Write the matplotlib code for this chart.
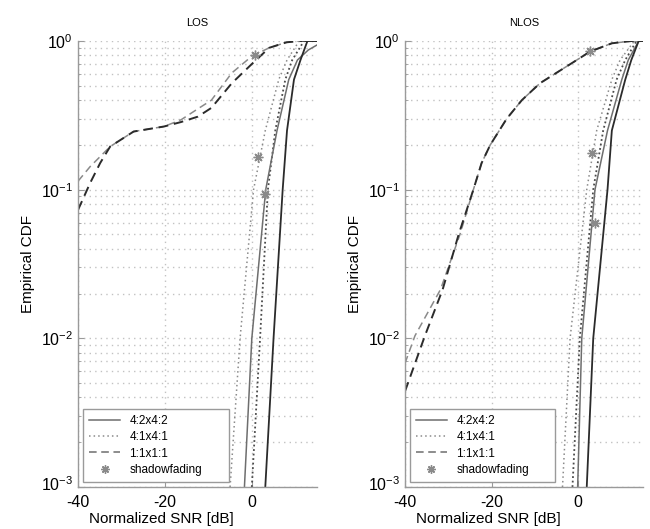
import numpy as np
import matplotlib
matplotlib.use('Agg')
import matplotlib.pyplot as plt
import matplotlib.transforms as mtransforms
from matplotlib.ticker import MultipleLocator, FixedLocator, LogLocator, NullFormatter
from matplotlib.lines import Line2D

plt.rcParams['font.family'] = ['Liberation Sans', 'DejaVu Sans']
plt.rcParams['mathtext.fontset'] = 'custom'
plt.rcParams['mathtext.rm'] = 'Liberation Sans'
plt.rcParams['mathtext.it'] = 'Liberation Sans:italic'
plt.rcParams['mathtext.bf'] = 'Liberation Sans:bold'
plt.rcParams['axes.unicode_minus'] = False

# ---- data (x in dB, y = CDF) ----
# LOS
los_solid_dark_x = [3.1, 5.0, 7.1, 8.1, 9.7, 11.2, 12.8, 15.0]
los_solid_dark_y = [1e-3, 1e-2, 0.1, 0.25, 0.55, 0.745, 1.0, 1.0]
los_solid_gray_x = [-1.7, 0.0, 3.2, 5.8, 8.5, 10.5, 13.0, 15.0]
los_solid_gray_y = [1e-3, 1e-2, 0.1, 0.25, 0.55, 0.745, 0.87, 0.94]
los_dot_dark_x = [0.0, 1.9, 3.7, 5.4, 7.7, 9.3, 12.0, 15.0]
los_dot_dark_y = [1e-3, 1e-2, 0.1, 0.25, 0.55, 0.745, 1.0, 1.0]
los_dot_gray_x = [-5.0, -2.7, 0.4, 3.1, 6.2, 8.1, 10.9, 15.0]
los_dot_gray_y = [1e-3, 1e-2, 0.1, 0.25, 0.55, 0.745, 1.0, 1.0]
los_dash_gray_x = [-40, -37.2, -32.6, -27.2, -20.2, -16.3, -12.4, -9.3, -4.6, 0.0, 4.0, 8.0, 11.0, 15.0]
los_dash_gray_y = [0.114, 0.143, 0.195, 0.246, 0.266, 0.295, 0.35, 0.40, 0.61, 0.79, 0.90, 0.98, 1.0, 1.0]
los_dash_dark_x = [-40, -37.2, -34.9, -32.6, -27.2, -20.2, -16.3, -12.4, -9.3, -4.6, 0.0, 4.0, 8.0, 11.0, 15.0]
los_dash_dark_y = [0.073, 0.111, 0.151, 0.195, 0.246, 0.266, 0.285, 0.31, 0.355, 0.52, 0.70, 0.90, 0.98, 1.0, 1.0]
los_star_x = [0.8, 1.5, 3.1]
los_star_y = [0.80, 0.165, 0.093]

# NLOS
nlos_solid_dark_x = [2.0, 3.5, 6.8, 7.8, 10.9, 12.3, 14.0, 15.0]
nlos_solid_dark_y = [1e-3, 1e-2, 0.1, 0.25, 0.55, 0.745, 1.0, 1.0]
nlos_solid_gray_x = [-0.1, 0.85, 3.9, 6.8, 10.1, 11.6, 14.0, 15.0]
nlos_solid_gray_y = [1e-3, 1e-2, 0.1, 0.25, 0.55, 0.745, 1.0, 1.0]
nlos_dot_dark_x = [-1.3, 0.4, 3.5, 5.8, 8.9, 10.9, 13.5, 15.0]
nlos_dot_dark_y = [1e-3, 1e-2, 0.1, 0.25, 0.55, 0.745, 1.0, 1.0]
nlos_dot_gray_x = [-3.6, -1.85, 2.0, 4.3, 7.8, 9.7, 13.0, 15.0]
nlos_dot_gray_y = [1e-3, 1e-2, 0.1, 0.25, 0.55, 0.745, 1.0, 1.0]
nlos_dash_gray_x = [-40, -37.7, -31.8, -27.3, -24.2, -22.3, -20.3, -16.5, -13.0, -8.8, -0.3, 2.8, 7.8, 12.4, 15.0]
nlos_dash_gray_y = [0.0068, 0.0104, 0.0213, 0.05, 0.1, 0.151, 0.2, 0.30, 0.40, 0.52, 0.745, 0.85, 0.965, 1.0, 1.0]
nlos_dash_dark_x = [-40, -35.4, -31.3, -27.6, -24.2, -22.3, -20.3, -16.5, -13.0, -8.8, -0.3, 2.8, 7.8, 12.4, 15.0]
nlos_dash_dark_y = [0.0044, 0.0104, 0.0213, 0.05, 0.1, 0.151, 0.2, 0.30, 0.40, 0.52, 0.745, 0.85, 0.965, 1.0, 1.0]
nlos_star_x = [2.8, 3.2, 3.9]
nlos_star_y = [0.85, 0.176, 0.06]

legend_labels = ['4:2x4:2', '4:1x4:1', '1:1x1:1', 'shadowfading']
titles = ['LOS', 'NLOS']
ydecades = [1e-3, 1e-2, 1e-1, 1e0]

dark = '#2b2b2b'
gray = '#8a8a8a'
axcol = '#9a9a9a'
gridcol = '#c2c2c2'
asterisk = (8, 2, 0)   # matlab-ish '*'


def draw_panel(ax, d, title):
    ax.semilogy(d['dash_gray'][0], d['dash_gray'][1], color=gray, ls=(0, (5, 3)), lw=1.1)
    ax.semilogy(d['dash_dark'][0], d['dash_dark'][1], color=dark, ls=(0, (5, 3)), lw=1.4)
    ax.semilogy(d['dot_gray'][0], d['dot_gray'][1], color=gray, ls=(0, (1, 2)), lw=1.1)
    ax.semilogy(d['dot_dark'][0], d['dot_dark'][1], color='#4a4a4a', ls=(0, (1, 1.5)), lw=1.3)
    ax.semilogy(d['solid_gray'][0], d['solid_gray'][1], color='#6e6e6e', lw=1.1)
    ax.semilogy(d['solid_dark'][0], d['solid_dark'][1], color=dark, lw=1.3)
    ax.semilogy(d['star'][0], d['star'][1], ls='none', marker=asterisk, color=gray, ms=7, mew=1.0)

    ax.set_xlim(-40, 15)
    ax.set_ylim(1e-3, 1)
    ax.xaxis.set_major_locator(MultipleLocator(20))
    ax.yaxis.set_major_locator(FixedLocator(ydecades))
    ax.yaxis.set_minor_locator(LogLocator(base=10, subs=np.arange(2, 10)))
    ax.yaxis.set_minor_formatter(NullFormatter())
    ax.grid(True, which='major', ls=(0, (1, 3)), color=gridcol, lw=1.0)
    ax.grid(True, which='minor', axis='y', ls=(0, (1, 3)), color=gridcol, lw=1.0)
    for s in ['top', 'right']:
        ax.spines[s].set_visible(False)
    for s in ['left', 'bottom']:
        ax.spines[s].set_color(axcol)
        ax.spines[s].set_linewidth(1.0)
    ax.tick_params(which='both', direction='in', color=axcol, labelsize=11.5)
    ax.tick_params(which='major', length=4)
    ax.tick_params(which='minor', length=2.5)
    ax.tick_params(axis='x', pad=5.5)
    ax.set_title(title, fontsize=8, pad=11)
    ax.set_xlabel('Normalized SNR [dB]', fontsize=11)
    ax.xaxis.set_label_coords(0.35, -0.057)
    ax.set_ylabel('Empirical CDF', fontsize=11, labelpad=4)

    # lift the 10^-3 label a bit, like the original
    fig.canvas.draw()
    lab = ax.yaxis.get_major_ticks()[0].label1
    lab.set_transform(lab.get_transform() + mtransforms.ScaledTranslation(0, 3/72, fig.dpi_scale_trans))

    handles = [Line2D([], [], color='#6e6e6e', lw=1.1),
               Line2D([], [], color=gray, ls=(0, (1, 2)), lw=1.1),
               Line2D([], [], color='#6e6e6e', ls=(0, (5, 3)), lw=1.1),
               Line2D([], [], ls='none', marker=asterisk, color=gray, ms=6, mew=1.0)]
    leg = ax.legend(handles, legend_labels, loc='lower left', bbox_to_anchor=(0.022, 0.012, 0.61, 0.2),
                    mode='expand', fontsize=8.5, fancybox=False, framealpha=1, borderaxespad=0,
                    handlelength=2.6, labelspacing=0.35, borderpad=0.5)
    leg.get_frame().set_edgecolor(axcol)
    leg.get_frame().set_linewidth(1.0)


los = {'solid_dark': (los_solid_dark_x, los_solid_dark_y), 'solid_gray': (los_solid_gray_x, los_solid_gray_y),
       'dot_dark': (los_dot_dark_x, los_dot_dark_y), 'dot_gray': (los_dot_gray_x, los_dot_gray_y),
       'dash_dark': (los_dash_dark_x, los_dash_dark_y), 'dash_gray': (los_dash_gray_x, los_dash_gray_y),
       'star': (los_star_x, los_star_y)}
nlos = {'solid_dark': (nlos_solid_dark_x, nlos_solid_dark_y), 'solid_gray': (nlos_solid_gray_x, nlos_solid_gray_y),
        'dot_dark': (nlos_dot_dark_x, nlos_dot_dark_y), 'dot_gray': (nlos_dot_gray_x, nlos_dot_gray_y),
        'dash_dark': (nlos_dash_dark_x, nlos_dash_dark_y), 'dash_gray': (nlos_dash_gray_x, nlos_dash_gray_y),
        'star': (nlos_star_x, nlos_star_y)}

fig = plt.figure(figsize=(6.5, 5.29), dpi=100)
ax1 = fig.add_axes([78/650, 1-487/529, 239/650, 446/529])
ax2 = fig.add_axes([405/650, 1-487/529, 238/650, 446/529])
draw_panel(ax1, los, titles[0])
draw_panel(ax2, nlos, titles[1])

fig.savefig('out.png', dpi=100)
